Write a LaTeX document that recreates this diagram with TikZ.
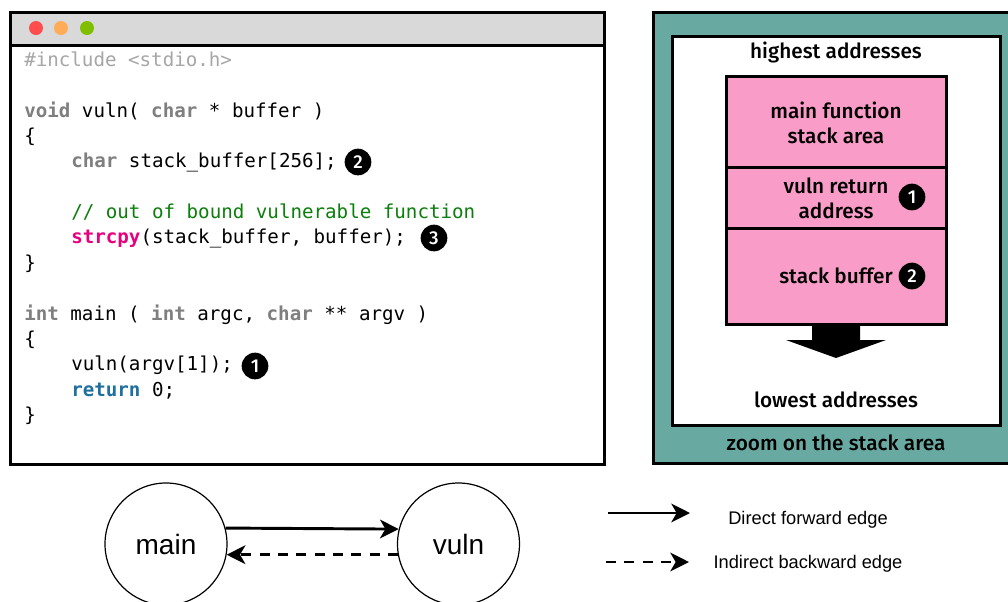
\documentclass[tikz,border=0pt]{standalone}
\usepackage{fontspec}
\setmainfont{Fira Sans}[BoldFont={Fira Sans Medium}]
\setsansfont{Liberation Sans}
\setmonofont{DejaVu Sans Mono}
\usetikzlibrary{arrows.meta}
\definecolor{tealpanel}{HTML}{68A9A1}
\definecolor{stackpink}{HTML}{F99CC8}
\definecolor{titlegray}{HTML}{D9D9D9}
\definecolor{kwgray}{HTML}{7F7F7F}
\definecolor{incgray}{HTML}{A6A6A6}
\definecolor{cmtgreen}{HTML}{0B7F0B}
\definecolor{callpink}{HTML}{E6007E}
\definecolor{retblue}{HTML}{1F6F9F}
\newcommand{\kw}[1]{\textcolor{kwgray}{\textbf{#1}}}
\tikzstyle{box}=[shape=rectangle,
                draw=black,
                line width=2.25pt,
                inner sep=0pt]
\tikzstyle{code}=[anchor=base west,
                inner sep=0pt,
                font=\ttfamily\fontsize{14.38}{16}\selectfont]
\tikzstyle{lbl}=[inner sep=0pt,
                align=center,
                font=\fontsize{15.6}{19}\selectfont\bfseries]
\tikzstyle{badge}=[shape=circle,
                fill=black,
                text=white,
                inner sep=0pt,
                minimum size=20pt,
                font=\fontsize{14}{14}\selectfont\bfseries]
\tikzstyle{fn}=[shape=circle,
                draw=black,
                line width=0.9pt,
                inner sep=0pt,
                minimum size=91.5pt,
                font=\sffamily\fontsize{21}{24}\selectfont]
\tikzstyle{legend}=[inner sep=0pt,
                font=\sffamily\fontsize{13.7}{15}\selectfont]
\tikzstyle{edge}=[line width=2.2pt]
\tikzstyle{backedge}=[line width=2.2pt,dash pattern=on 7.5pt off 6.25pt]

\begin{document}
\begin{tikzpicture}[>={Stealth[length=14pt,width=14pt,inset=4pt]},x=0.75pt,y=-0.75pt]
\useasboundingbox (0,0) rectangle (1008,601);

% code window
\node[box,fill=white,minimum width=445.5pt,minimum height=339pt] (window) at (307.5,238.5) {};
\node[box,fill=titlegray,minimum width=445.5pt,minimum height=24.75pt] (titlebar) at (307.5,28.5) {};
\fill[fill=red!70!white] (36,28) circle (5.25pt);
\fill[fill=orange!65!white] (61,28) circle (5.25pt);
\fill[fill=green!50!black!50!yellow] (87,28) circle (5.25pt);

% source lines
\node[code,text=incgray] (inc) at (24,66) {\#include <stdio.h>};
\node[code] (l1) at (24,117)  {\kw{void} vuln( \kw{char} * buffer )};
\node[code] (l2) at (24,142)  {\{};
\node[code] (l3) at (71,167)  {\kw{char} stack\_buffer[256];};
\node[code,text=cmtgreen] (l4) at (71,218) {// out of bound vulnerable function};
\node[code] (l5) at (71,243)  {\textcolor{callpink}{\textbf{strcpy}}(stack\_buffer, buffer);};
\node[code] (l6) at (24,269)  {\}};
\node[code] (l7) at (24,320)  {\kw{int} main ( \kw{int} argc, \kw{char} ** argv )};
\node[code] (l8) at (24,345)  {\{};
\node[code] (l9) at (71,370)  {vuln(argv[1]);};
\node[code] (l10) at (71,396) {\textcolor{retblue}{\textbf{return}} 0;};
\node[code] (l11) at (24,421) {\}};

\node[badge] (c2) at (358,162) {2};
\node[badge] (c3) at (434,238) {3};
\node[badge] (c1) at (255,366) {1};

% stack panel
\node[box,fill=tealpanel,minimum width=270pt,minimum height=338.25pt] (panel) at (833,238) {};
\node[box,fill=white,minimum width=246pt,minimum height=291.75pt] (inner) at (836,230.5) {};
\node[lbl] (high) at (836,52) {highest addresses};
\node[lbl] (low) at (836,400) {lowest addresses};
\node[lbl] (zoomlbl) at (836,443) {zoom on the stack area};

% stack frames
\node[box,fill=stackpink,minimum width=165pt,minimum height=68.25pt] (mainf) at (836,121.5) {};
\node[box,fill=stackpink,minimum width=165pt,minimum height=45.75pt] (ret) at (836,197.5) {};
\node[box,fill=stackpink,minimum width=165pt,minimum height=72pt] (buf) at (836,276) {};
\node[lbl] (mainlbl) at (836,123) {main function\\stack area};
\node[lbl] (retlbl) at (836,198) {vuln return\\address};
\node[lbl] (buflbl) at (836,276) {stack buffer};
\node[badge] (s1) at (912,197) {1};
\node[badge] (s2) at (912,276) {2};

% growth arrow
\fill (812,324) -- (860,324) -- (860,340) -- (886,340) -- (836,358) -- (786,340) -- (812,340) -- cycle;

% call graph
\node[fn] (main) at (166,544) {main};
\node[fn] (vuln) at (458.5,544) {vuln};
\draw[->,edge] (main.15) -- (vuln.166);
\draw[->,backedge] (vuln.190) -- (main.-10);

% legend
\coordinate (a1) at (608,513);
\coordinate (a2) at (690,513);
\coordinate (b1) at (606,562);
\coordinate (b2) at (689,562);
\draw[->,edge] (a1) -- (a2);
\draw[->,backedge] (b1) -- (b2);
\node[legend] (fwd) at (808,520) {Direct forward edge};
\node[legend] (bwd) at (808,564) {Indirect backward edge};

\end{tikzpicture}
\end{document}
